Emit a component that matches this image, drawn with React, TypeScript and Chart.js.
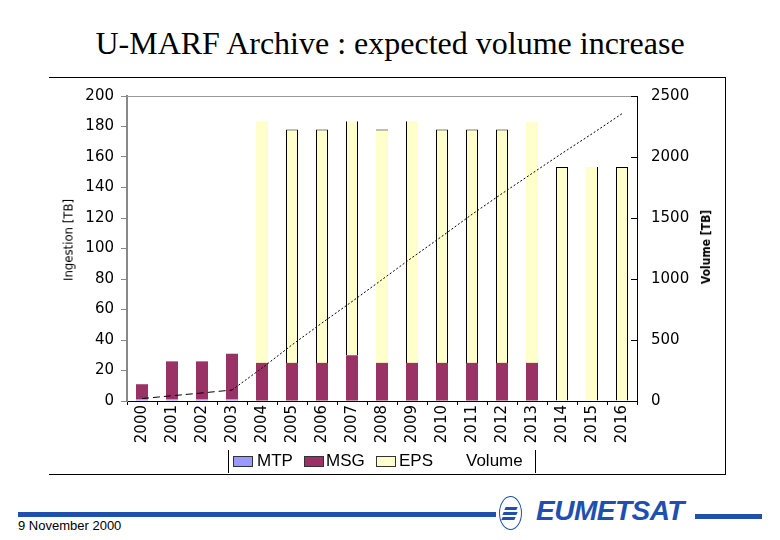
import React, { useEffect, useRef } from "react";
import { Chart, registerables } from "chart.js";

Chart.register(...registerables);

// ---- data ----
const years = ["2000", "2001", "2002", "2003", "2004", "2005", "2006", "2007", "2008", "2009", "2010", "2011", "2012", "2013", "2014", "2015", "2016"];
const mtp = [1, 1, 1, 1, 0, 0, 0, 0, 0, 0, 0, 0, 0, 0, 0, 0, 0];
const msg = [10, 25, 25, 30, 25, 25, 25, 30, 25, 25, 25, 25, 25, 25, 0, 0, 0];
const eps = [0, 0, 0, 0, 158.5, 153, 153, 153.5, 153, 158.5, 153, 153, 153, 158, 153.5, 153.5, 153.5];
const volume = [20, 43, 66, 90, 270, 460, 640, 815, 995, 1175, 1350, 1530, 1700, 1865, 2030, 2190, 2355];
const ingestionRange = [0, 200, 20];
const volumeRange = [0, 2500, 500];
const legendLabels = ["MTP", "MSG", "EPS", "Volume"];

// outline seen on the pale EPS bars (rendering of the original)
const epsOutline: any[] = [0, 0, 0, 0, 0, 1, 1, { left: 1, right: 1 }, { top: 1 }, { left: 1 }, 1, 1, 1, 0, 1, { right: 1 }, 1];

const COLORS = { MTP: "#9999ff", MSG: "#993366", EPS: "#ffffcc" } as Record<string, string>;
const TICK_FONT = { family: "'DejaVu Sans', sans-serif", size: 15 };

const framePlugin = {
  id: "framePlugin",
  afterDraw(chart: any) {
    const { ctx, chartArea } = chart;
    const { left, right, top } = chartArea;
    ctx.save();
    ctx.strokeStyle = "#9a9a9a";
    ctx.lineWidth = 1;
    ctx.beginPath();
    ctx.moveTo(left, top + 0.5);
    ctx.lineTo(right, top + 0.5);
    ctx.stroke();
    const y1 = chart.scales.y1;
    ctx.strokeStyle = "#000";
    y1.ticks.forEach((t: any) => {
      const py = Math.round(y1.getPixelForValue(t.value)) + 0.5;
      ctx.beginPath();
      ctx.moveTo(right - 6, py);
      ctx.lineTo(right, py);
      ctx.stroke();
    });
    ctx.restore();
  },
};

function ChartCanvas() {
  const ref = useRef<HTMLCanvasElement | null>(null);
  useEffect(() => {
    if (!ref.current) return;
    const chart = new Chart(ref.current, {
      type: "bar",
      data: {
        labels: years,
        datasets: [
          { label: "MTP", data: mtp, backgroundColor: COLORS.MTP, borderWidth: 0, order: 1, yAxisID: "y" },
          { label: "MSG", data: msg, backgroundColor: COLORS.MSG, borderWidth: 0, order: 1, yAxisID: "y" },
          { label: "EPS", data: eps, backgroundColor: COLORS.EPS, borderColor: "#000", borderWidth: epsOutline, order: 1, yAxisID: "y" },
          {
            type: "line",
            label: "Volume",
            data: volume,
            yAxisID: "y1",
            borderColor: "#000",
            borderWidth: 1,
            pointRadius: 0,
            fill: false,
            tension: 0,
            order: 0,
            segment: {
              borderDash: (c: any) => (c.p0DataIndex < 3 ? [7, 4] : [2, 2]),
            },
          } as any,
        ],
      },
      options: {
        animation: false,
        responsive: false,
        devicePixelRatio: 1,
        layout: { padding: { top: 2, left: 0, right: 0, bottom: 0 } },
        datasets: { bar: { barPercentage: 0.4, categoryPercentage: 1 } },
        plugins: { legend: { display: false }, tooltip: { enabled: false }, title: { display: false } },
        scales: {
          x: {
            stacked: true,
            grid: { offset: true, drawOnChartArea: false, tickLength: 4, color: "#000" },
            border: { color: "#000", width: 1 },
            ticks: { font: TICK_FONT, color: "#000", minRotation: 90, maxRotation: 90, padding: 0, autoSkip: false },
            afterFit: (s: any) => { s.height = 57; },
          },
          y: {
            stacked: true,
            position: "left",
            min: ingestionRange[0],
            max: ingestionRange[1],
            ticks: { stepSize: ingestionRange[2], font: TICK_FONT, color: "#000", padding: 7 },
            grid: { drawOnChartArea: false, tickLength: 6, color: "#888" },
            border: { color: "#888", width: 2 },
            afterFit: (s: any) => { s.width = 87; },
          },
          y1: {
            stacked: false,
            position: "right",
            min: volumeRange[0],
            max: volumeRange[1],
            ticks: { stepSize: volumeRange[2], font: TICK_FONT, color: "#000", padding: 14, callback: (v: any) => String(v) },
            grid: { drawOnChartArea: false, drawTicks: false },
            border: { color: "#000", width: 1 },
            afterFit: (s: any) => { s.width = 93; },
          },
        },
      },
      plugins: [framePlugin],
    } as any);
    return () => chart.destroy();
  }, []);
  return <canvas ref={ref} width={690} height={385} style={{ position: "absolute", left: 40, top: 73, width: 690, height: 385 }} />;
}

const legendPos = [
  { swatch: 233, text: 257 },
  { swatch: 304, text: 326 },
  { swatch: 376, text: 399 },
  { swatch: -1, text: 466 },
];

export default function App() {
  return (
    <div style={{ position: "absolute", left: 0, top: 0, width: 780, height: 540, background: "#fff", overflow: "hidden" }}>
      <div
        style={{
          position: "absolute", left: 0, top: 25, width: 780, textAlign: "center",
          fontFamily: "'Liberation Serif', 'Times New Roman', serif", fontSize: 32, color: "#000", whiteSpace: "nowrap",
        }}
      >
        U-MARF Archive : expected volume increase
      </div>

      {/* chart frame */}
      <div style={{ position: "absolute", left: 49, top: 77, width: 676, height: 396, borderTop: "1px solid #000", borderRight: "1px solid #000", borderBottom: "1px solid #000" }} />

      <ChartCanvas />

      {/* axis titles */}
      <div
        style={{
          position: "absolute", left: 68, top: 240, transform: "translate(-50%, -50%) rotate(-90deg)", whiteSpace: "nowrap",
          fontFamily: "'Liberation Sans Narrow', 'DejaVu Sans Condensed', 'Liberation Sans', sans-serif", fontSize: 13, color: "#000",
        }}
      >
        Ingestion [TB]
      </div>
      <div
        style={{
          position: "absolute", left: 706, top: 247, transform: "translate(-50%, -50%) rotate(-90deg)", whiteSpace: "nowrap",
          fontFamily: "'Liberation Sans Narrow', 'DejaVu Sans Condensed', 'Liberation Sans', sans-serif", fontSize: 12, fontWeight: "bold", color: "#000",
        }}
      >
        Volume [TB]
      </div>

      {/* legend */}
      <div style={{ position: "absolute", left: 228, top: 450, width: 308, height: 23, borderLeft: "1px solid #000", borderRight: "1px solid #000", boxSizing: "border-box" }} />
      {legendLabels.map((label, i) => (
        <React.Fragment key={label}>
          {legendPos[i].swatch >= 0 && (
            <div
              style={{
                position: "absolute", left: legendPos[i].swatch, top: 456, width: 20, height: 11, boxSizing: "border-box",
                background: COLORS[label], border: "1px solid #333",
              }}
            />
          )}
          <div
            style={{
              position: "absolute", left: legendPos[i].text, top: 451, lineHeight: "20px",
              fontFamily: "'Liberation Sans', Arial, sans-serif", fontSize: 17, color: "#000", whiteSpace: "nowrap",
            }}
          >
            {label}
          </div>
        </React.Fragment>
      ))}

      {/* footer */}
      <div style={{ position: "absolute", left: 18, top: 512, width: 478, height: 5, background: "#1f4fb0" }} />
      <div style={{ position: "absolute", left: 695, top: 514, width: 67, height: 5, background: "#1f4fb0" }} />
      <div style={{ position: "absolute", left: 499, top: 496, width: 23, height: 34, borderRadius: "50%", border: "1px solid #1f4fb0", boxSizing: "border-box", background: "#fff" }} />
      <div style={{ position: "absolute", left: 505, top: 507, width: 12, height: 3, background: "#1f4fb0", transform: "skewX(-25deg)" }} />
      <div style={{ position: "absolute", left: 503, top: 512, width: 14, height: 3, background: "#1f4fb0", transform: "skewX(-25deg)" }} />
      <div style={{ position: "absolute", left: 502, top: 517, width: 13, height: 3, background: "#1f4fb0", transform: "skewX(-25deg)" }} />
      <div
        style={{
          position: "absolute", left: 536, top: 495, fontFamily: "'Liberation Sans', Arial, sans-serif", fontWeight: "bold", fontStyle: "italic",
          fontSize: 28, color: "#1f4fb0", letterSpacing: -0.5, whiteSpace: "nowrap",
        }}
      >
        EUMETSAT
      </div>
      <div
        style={{
          position: "absolute", left: 18, top: 518, fontFamily: "'Liberation Sans', Arial, sans-serif", fontSize: 13, color: "#000", whiteSpace: "nowrap",
        }}
      >
        9 November 2000
      </div>
    </div>
  );
}
